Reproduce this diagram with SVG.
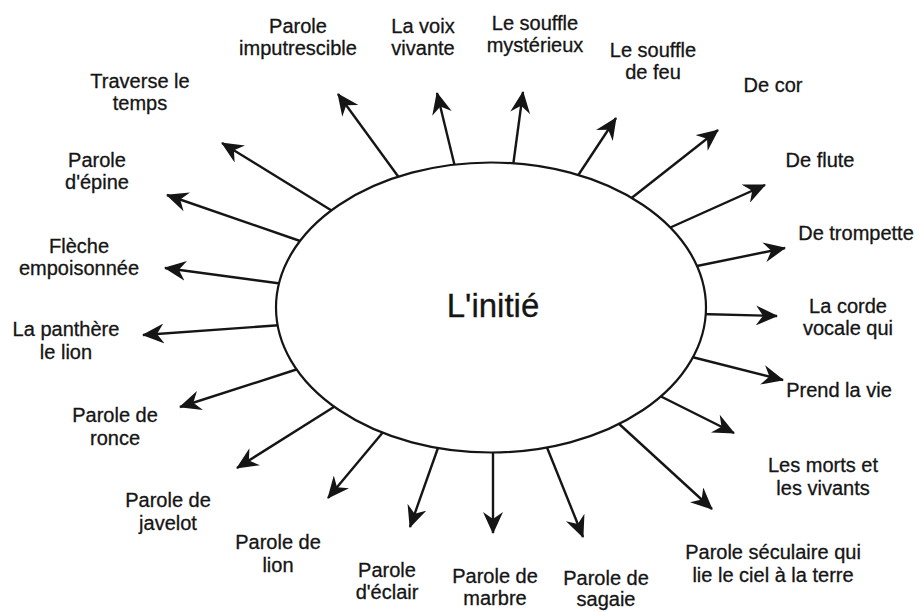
<svg xmlns="http://www.w3.org/2000/svg" width="920" height="612" viewBox="0 0 920 612">
<style>
.lbl{font-family:"Liberation Sans",Arial,sans-serif;font-size:20px;fill:#151515;stroke:#151515;stroke-width:0.3;text-anchor:middle}
.ctr{font-family:"Liberation Sans",Arial,sans-serif;font-size:33px;fill:#151515;stroke:#151515;stroke-width:0.3;text-anchor:middle}
.arr{stroke:#151515;stroke-width:2.4;fill:none;marker-end:url(#ah)}
</style>
<defs>
<marker id="ah" viewBox="0 0 22 20" markerWidth="22" markerHeight="20" markerUnits="userSpaceOnUse" orient="auto" refX="21" refY="10">
<path d="M0,0 L22,10 L0,20 L7,10 Z" fill="#151515"/>
</marker>
</defs>
<rect width="920" height="612" fill="#ffffff"/>
<g id="connectors">
<line class="arr" x1="400" y1="179" x2="338" y2="94"/>
<line class="arr" x1="455" y1="167" x2="437" y2="93"/>
<line class="arr" x1="513" y1="166" x2="523" y2="92"/>
<line class="arr" x1="577" y1="177" x2="616" y2="118"/>
<line class="arr" x1="629" y1="200" x2="718" y2="130"/>
<line class="arr" x1="667" y1="229" x2="765" y2="185"/>
<line class="arr" x1="692" y1="267" x2="785" y2="248"/>
<line class="arr" x1="700" y1="314" x2="777" y2="316"/>
<line class="arr" x1="688" y1="356" x2="783" y2="380"/>
<line class="arr" x1="658" y1="395" x2="734" y2="433"/>
<line class="arr" x1="617" y1="422" x2="712" y2="509"/>
<line class="arr" x1="546" y1="445" x2="583" y2="537"/>
<line class="arr" x1="493" y1="449" x2="493" y2="533"/>
<line class="arr" x1="439" y1="445" x2="410" y2="527"/>
<line class="arr" x1="384" y1="431" x2="328" y2="498"/>
<line class="arr" x1="337" y1="405" x2="237" y2="468"/>
<line class="arr" x1="301" y1="368" x2="180" y2="407"/>
<line class="arr" x1="282" y1="325" x2="143" y2="335"/>
<line class="arr" x1="284" y1="284" x2="165" y2="268"/>
<line class="arr" x1="303" y1="242" x2="167" y2="195"/>
<line class="arr" x1="334" y1="212" x2="222" y2="143"/>
</g>
<g id="initie">
<ellipse cx="491" cy="307.5" rx="215" ry="145" fill="#ffffff" stroke="#151515" stroke-width="2.2"/>
<text class="ctr" x="493" y="317">L'initié</text>
</g>
<g id="n-imputrescible"><text class="lbl" x="298" y="33">Parole</text><text class="lbl" x="298" y="55">imputrescible</text></g>
<g id="n-voix"><text class="lbl" x="423" y="33">La voix</text><text class="lbl" x="423" y="55">vivante</text></g>
<g id="n-mysterieux"><text class="lbl" x="535" y="30">Le souffle</text><text class="lbl" x="535" y="52">mystérieux</text></g>
<g id="n-feu"><text class="lbl" x="653" y="57">Le souffle</text><text class="lbl" x="653" y="79">de feu</text></g>
<g id="n-cor"><text class="lbl" x="773" y="92">De cor</text></g>
<g id="n-flute"><text class="lbl" x="820" y="167">De flute</text></g>
<g id="n-trompette"><text class="lbl" x="856" y="240">De trompette</text></g>
<g id="n-corde"><text class="lbl" x="848" y="313">La corde</text><text class="lbl" x="848" y="335">vocale qui</text></g>
<g id="n-prend"><text class="lbl" x="839" y="397">Prend la vie</text></g>
<g id="n-morts"><text class="lbl" x="823" y="472">Les morts et</text><text class="lbl" x="823" y="495">les vivants</text></g>
<g id="n-seculaire"><text class="lbl" x="773" y="559">Parole séculaire qui</text><text class="lbl" x="773" y="582">lie le ciel à la terre</text></g>
<g id="n-sagaie"><text class="lbl" x="606" y="585">Parole de</text><text class="lbl" x="606" y="606">sagaie</text></g>
<g id="n-marbre"><text class="lbl" x="495" y="583">Parole de</text><text class="lbl" x="495" y="605">marbre</text></g>
<g id="n-eclair"><text class="lbl" x="387" y="577">Parole</text><text class="lbl" x="387" y="599">d'éclair</text></g>
<g id="n-lion"><text class="lbl" x="278" y="549">Parole de</text><text class="lbl" x="278" y="572">lion</text></g>
<g id="n-javelot"><text class="lbl" x="168" y="507">Parole de</text><text class="lbl" x="168" y="530">javelot</text></g>
<g id="n-ronce"><text class="lbl" x="115" y="422">Parole de</text><text class="lbl" x="115" y="445">ronce</text></g>
<g id="n-panthere"><text class="lbl" x="66" y="336">La panthère</text><text class="lbl" x="66" y="359">le lion</text></g>
<g id="n-fleche"><text class="lbl" x="79" y="253">Flèche</text><text class="lbl" x="79" y="275">empoisonnée</text></g>
<g id="n-epine"><text class="lbl" x="97" y="167">Parole</text><text class="lbl" x="97" y="189">d'épine</text></g>
<g id="n-temps"><text class="lbl" x="140" y="88">Traverse le</text><text class="lbl" x="140" y="110">temps</text></g>
</svg>
